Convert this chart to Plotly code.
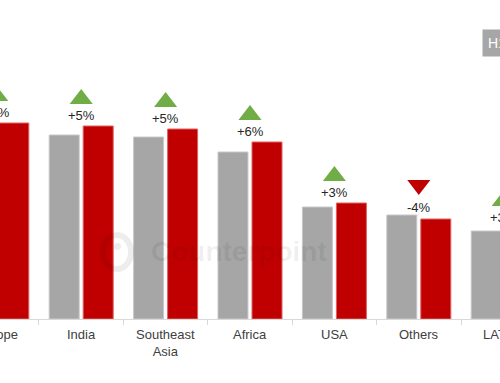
import plotly.graph_objects as go

categories = ["Europe", "India", "Southeast<br>Asia", "Africa", "USA", "Others", "LATAM"]
prev_values = [188, 184, 182, 167, 112, 104, 88]
curr_values = [196, 193, 190, 177, 116, 100, 91]
growth_labels = ["+4%", "+5%", "+5%", "+6%", "+3%", "-4%", "+3%"]
series_names = ["H1 2023", "H1 2024"]

GRAY = "#A6A6A6"
RED = "#C00000"
GREEN = "#70AD47"
FONT = "Arial, Liberation Sans, sans-serif"

idx = list(range(len(categories)))
XR = [0.038, 5.962]
YR = [0, 319]

def paper_x(i):
    return (i - XR[0]) / (XR[1] - XR[0])

fig = go.Figure()
fig.add_trace(go.Bar(x=idx, y=prev_values, name=series_names[0],
                     marker=dict(color=GRAY, line=dict(color="#C8C8C8", width=1))))
fig.add_trace(go.Bar(x=idx, y=curr_values, name=series_names[1],
                     marker=dict(color=RED, line=dict(color="#E06060", width=1))))

# growth indicator triangles
up_x, up_y, dn_x, dn_y = [], [], [], []
for i, (p, c, g) in enumerate(zip(prev_values, curr_values, growth_labels)):
    top = max(p, c)
    if g.startswith("-"):
        dn_x.append(i); dn_y.append(top + 30)
    else:
        up_x.append(i); up_y.append(top + 27)

fig.add_trace(go.Scatter(x=up_x, y=up_y, mode="markers", showlegend=False, hoverinfo="skip",
                         marker=dict(symbol="triangle-up", size=20, color=GREEN)))
fig.add_trace(go.Scatter(x=dn_x, y=dn_y, mode="markers", showlegend=False, hoverinfo="skip",
                         marker=dict(symbol="triangle-down", size=20, color=RED)))

annotations = []
for i, (p, c, g) in enumerate(zip(prev_values, curr_values, growth_labels)):
    top = max(p, c)
    shift = 8 if g.startswith("-") else 11
    annotations.append(dict(x=paper_x(i), xref="paper", y=top, yref="y",
                            text=g, showarrow=False, xanchor="center", yanchor="middle",
                            yshift=shift, font=dict(family=FONT, size=13, color="#262626")))
    annotations.append(dict(x=paper_x(i), xref="paper", y=0, yref="paper",
                            text=categories[i], showarrow=False, xanchor="center", yanchor="top",
                            yshift=-6, font=dict(family=FONT, size=13, color="#404040")))

# legend-style label box (top right)
annotations.append(dict(x=482 / 500, xref="paper", y=(319 - 43) / 319, yref="paper",
                        text=series_names[0], showarrow=False, xanchor="left", yanchor="middle",
                        bgcolor=GRAY, borderpad=5,
                        font=dict(family=FONT, size=14, color="white")))

# watermark
annotations.append(dict(x=149 / 500, xref="paper", y=(319 - 251) / 319, yref="paper",
                        text="<b>Counterpoint</b>", showarrow=False, xanchor="left", yanchor="middle",
                        font=dict(family=FONT, size=28, color="rgba(0,0,0,0.07)")))

shapes = [
    dict(type="circle", xref="paper", yref="paper",
         x0=103 / 500, x1=131 / 500, y0=(319 - 269) / 319, y1=(319 - 235) / 319,
         line=dict(color="rgba(0,0,0,0.07)", width=6)),
    dict(type="circle", xref="paper", yref="paper",
         x0=114 / 500, x1=121 / 500, y0=(319 - 250) / 319, y1=(319 - 243) / 319,
         fillcolor="rgba(0,0,0,0.07)", line=dict(width=0)),
]

fig.update_layout(
    width=500, height=383,
    margin=dict(l=0, r=0, t=0, b=64),
    paper_bgcolor="white", plot_bgcolor="white",
    barmode="group", bargap=0.194, bargroupgap=0.118,
    showlegend=False,
    annotations=annotations,
    shapes=shapes,
    xaxis=dict(range=XR, showgrid=False, zeroline=False, showticklabels=False,
               showline=True, linecolor="#D9D9D9", linewidth=1,
               tickmode="array", tickvals=[i + 0.5 for i in idx[:-1]],
               ticks="outside", ticklen=5, tickcolor="#D9D9D9", tickwidth=1),
    yaxis=dict(range=YR, visible=False, showgrid=False, zeroline=False),
    font=dict(family=FONT),
)

fig.write_html("out.html", config={"displayModeBar": False},
               post_script="document.body.style.margin='0px';")
